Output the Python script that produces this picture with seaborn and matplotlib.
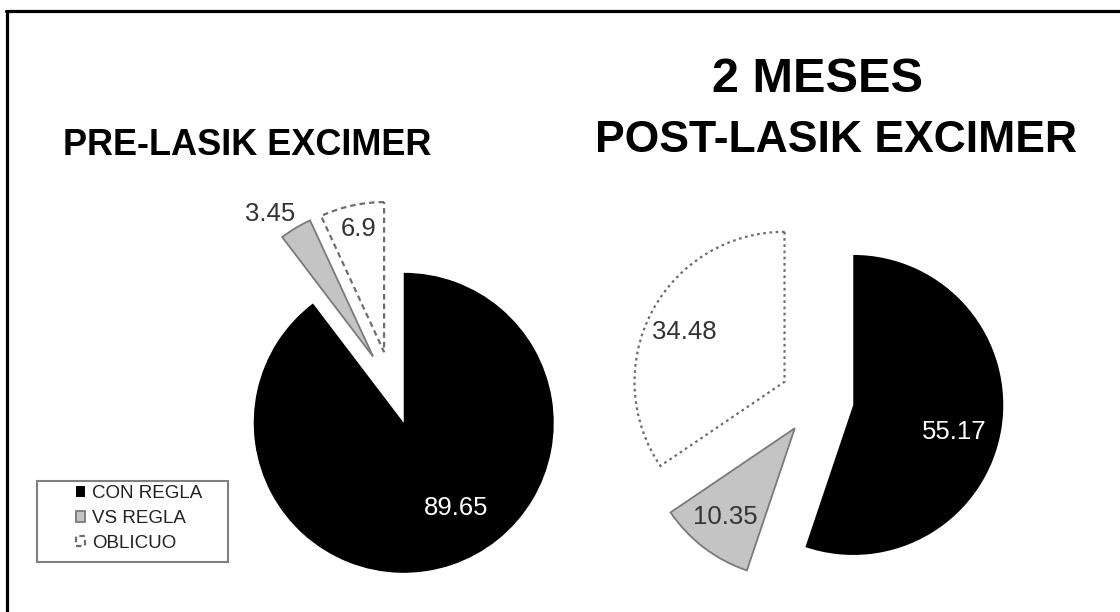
import matplotlib
matplotlib.use("Agg")
import matplotlib.pyplot as plt
from matplotlib import font_manager as fm
from matplotlib.patches import Rectangle
from matplotlib.lines import Line2D
import numpy as np
import seaborn as sns

# ---- data -------------------------------------------------------------
categories = ["CON REGLA", "VS REGLA", "OBLICUO"]
pre_values = [89.65, 3.45, 6.9]
post_values = [55.17, 10.35, 34.48]
pre_title = "PRE-LASIK EXCIMER"
post_title_top = "2 MESES"
post_title = "POST-LASIK EXCIMER"

# ---- style ------------------------------------------------------------
sns.set_theme(style="white")


def has_font(name):
    try:
        fm.findfont(fm.FontProperties(family=name), fallback_to_default=False)
        return True
    except ValueError:
        return False


base_family = "Liberation Sans"
narrow = has_font("Liberation Sans Narrow")
title_family = "Liberation Sans Narrow" if narrow else base_family
plt.rcParams["font.family"] = [base_family, "DejaVu Sans"]

# title sizes: condensed face if present, otherwise sized to the same width
if narrow:
    t_pre, t_top, t_post = 32, 40, 37
else:
    t_pre, t_top, t_post = 26, 35, 32

W, H = 1120, 612
fig = plt.figure(figsize=(W / 100, H / 100), dpi=100)
fig.patch.set_facecolor("white")
ax = fig.add_axes([0, 0, 1, 1])

R = 150.0
explode_frac = 0.245
face = ["black", "#c4c4c4", "white"]
edge = ["black", "#7a7a7a", "#6e6e6e"]

# label placement per slice: radial fraction and angular nudge (deg)
pre_lab = [(0.67, 13.0), (1.175, 4.8), (0.84, -0.9)]
post_lab = [(0.70, -5.7), (0.75, -0.6), (0.745, 1.4)]
lab_color = ["white", "#333333", "#333333"]


def draw_pie(values, center, white_ls, lab_pos):
    wedges, _ = ax.pie(
        values,
        center=center,
        radius=R,
        startangle=90,
        counterclock=False,
        explode=[explode_frac * R] * len(values),
        colors=face,
        wedgeprops=dict(linewidth=0),
    )
    for i, w in enumerate(wedges):
        w.set_edgecolor(edge[i])
        if i == 0:
            w.set_linewidth(0)
        elif i == 1:
            w.set_linewidth(1.3)
        else:
            w.set_linewidth(1.6)
            w.set_linestyle(white_ls)
        frac, nudge = lab_pos[i]
        mid = np.deg2rad(0.5 * (w.theta1 + w.theta2) + nudge)
        cx, cy = w.center
        ax.text(cx + frac * R * np.cos(mid), cy + frac * R * np.sin(mid),
                f"{values[i]:g}", ha="center", va="center",
                fontsize=18.5, color=lab_color[i])
    return wedges


pre_wedges = draw_pie(pre_values, (392, H - 388), (0, (2.5, 1.8)), pre_lab)
draw_pie(post_values, (817, H - 399), (0, (1.2, 1.6)), post_lab)

ax.set_xlim(0, W)
ax.set_ylim(0, H)
ax.set_aspect("auto")
ax.axis("off")

# ---- titles -----------------------------------------------------------
ax.text(247, H - 155, pre_title, ha="center", va="baseline",
        fontsize=t_pre, fontweight="bold", family=title_family, color="black")
ax.text(817, H - 92, post_title_top, ha="center", va="baseline",
        fontsize=t_top, fontweight="bold", family=title_family, color="black")
ax.text(836, H - 152, post_title, ha="center", va="baseline",
        fontsize=t_post, fontweight="bold", family=title_family, color="black")

# ---- legend -----------------------------------------------------------
ax.add_patch(Rectangle((37, H - 562), 191, 81, facecolor="white",
                       edgecolor="#808080", linewidth=1.5, zorder=3))
leg = ax.legend(pre_wedges, categories, loc="upper left",
                bbox_to_anchor=(76, H - 485), bbox_transform=ax.transData,
                frameon=False, borderpad=0, borderaxespad=0,
                handlelength=0.5, handleheight=0.5, handletextpad=0.35,
                labelspacing=0.42, fontsize=13.5)
leg.set_zorder(4)
for txt in leg.get_texts():
    txt.set_color("#222222")

# ---- outer frame (top and left rules) --------------------------------
fig.add_artist(Line2D([6 / W, 1.0], [1 - 11 / H, 1 - 11 / H],
                      color="black", linewidth=2.3, transform=fig.transFigure))
fig.add_artist(Line2D([7 / W, 7 / W], [0.0, 1 - 11 / H],
                      color="black", linewidth=2.3, transform=fig.transFigure))

fig.savefig("out.png", dpi=100, facecolor="white")
